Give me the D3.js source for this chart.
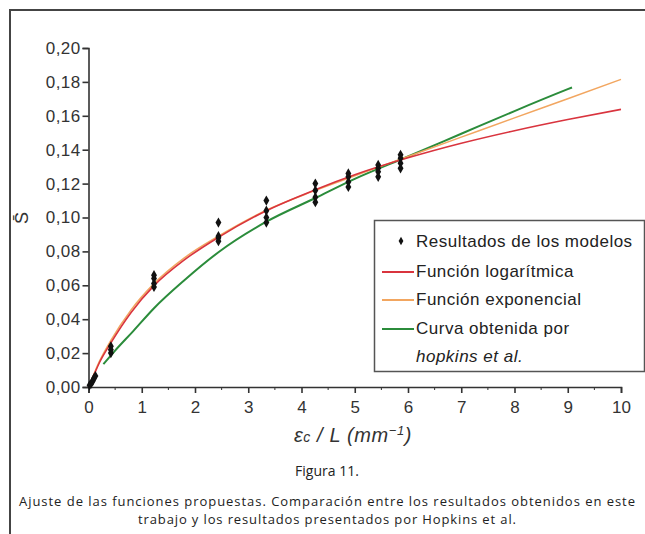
<!DOCTYPE html>
<html>
<head>
<meta charset="utf-8">
<script src="https://cdn.jsdelivr.net/npm/d3@7"></script>
<style>
  body { margin: 0; background: #fff; }
  svg { display: block; }
</style>
</head>
<body>
<div id="chart"></div>
<script>
// puntos de los modelos (x = εc/L, s = S medio)
const xPts = [0.02, 0.05, 0.08, 0.10, 0.13,
  0.42, 0.42, 0.42,
  1.23, 1.23, 1.23, 1.23,
  2.44, 2.44, 2.44, 2.44,
  3.34, 3.34, 3.34, 3.34,
  4.26, 4.26, 4.26, 4.26,
  4.88, 4.88, 4.88, 4.88,
  5.44, 5.44, 5.44, 5.44,
  5.86, 5.86, 5.86, 5.86];
const sPts = [0.001, 0.002, 0.0035, 0.005, 0.0065,
  0.020, 0.022, 0.024,
  0.059, 0.061, 0.064, 0.066,
  0.086, 0.088, 0.089, 0.097,
  0.097, 0.100, 0.104, 0.110,
  0.109, 0.112, 0.116, 0.120,
  0.118, 0.121, 0.124, 0.126,
  0.124, 0.127, 0.129, 0.131,
  0.129, 0.132, 0.135, 0.137];

// curvas ajustadas
const xFit = [0, 0.1, 0.2, 0.42, 0.8, 1.23, 1.8, 2.44, 3.34, 4.26, 5, 6, 7, 8, 9, 10];
const sLog = [0, 0.007, 0.014, 0.026, 0.044, 0.0598, 0.075, 0.0883, 0.104, 0.1164, 0.1252, 0.1352, 0.1438, 0.1512, 0.1578, 0.1638];
const sExp = [0, 0.0075, 0.0148, 0.0275, 0.0455, 0.061, 0.0762, 0.089, 0.1043, 0.116, 0.1246, 0.136, 0.1474, 0.1588, 0.1701, 0.1815];
const xHop = [0.28, 0.5, 0.84, 1.23, 1.8, 2.44, 3.34, 4.26, 5, 6, 7, 8, 9, 9.08];
const sHop = [0.0135, 0.0215, 0.033, 0.0465, 0.063, 0.0795, 0.0975, 0.1115, 0.1228, 0.136, 0.1494, 0.1628, 0.1757, 0.1767];

const yTicks = [0, 0.02, 0.04, 0.06, 0.08, 0.10, 0.12, 0.14, 0.16, 0.18, 0.20];
const xTicks = [0, 1, 2, 3, 4, 5, 6, 7, 8, 9, 10];
const legendLabels = ["Resultados de los modelos", "Función logarítmica", "Función exponencial", "Curva obtenida por"];
const colors = { log: "#d9343e", exp: "#f2a660", hop: "#2b8c3b" };

const W = 645, H = 534;
const svg = d3.select("#chart").append("svg").attr("width", W).attr("height", H);

// marco exterior
svg.append("path")
  .attr("d", `M10,${H} V10 H${W}`)
  .attr("fill", "none").attr("stroke", "#444").attr("stroke-width", 2);

const x = d3.scaleLinear().domain([0, 10]).range([88.5, 621]);
const y = d3.scaleLinear().domain([0, 0.2]).range([387, 48]);

const axisFont = "'Liberation Sans', Arial, sans-serif";

// eje Y
const gy = svg.append("g").attr("transform", `translate(${x(0)},0)`)
  .call(d3.axisLeft(y).tickValues(yTicks).tickSize(6).tickPadding(2)
    .tickFormat(d => d3.format(".2f")(d).replace(".", ",")));
gy.selectAll("text").attr("font-size", 17).attr("letter-spacing", 0.4)
  .attr("font-family", axisFont).attr("fill", "#333");

// eje X con marcas menores
const gx = svg.append("g").attr("transform", `translate(0,${y(0)})`)
  .call(d3.axisBottom(x).tickValues(xTicks).tickSize(6).tickPadding(8).tickFormat(d3.format("d")));
gx.selectAll("text").attr("font-size", 17).attr("font-family", axisFont).attr("fill", "#333");
gx.selectAll(".minor").data(d3.range(0.5, 10, 1)).enter().append("line")
  .attr("class", "minor")
  .attr("x1", d => x(d)).attr("x2", d => x(d)).attr("y1", 0).attr("y2", 3)
  .attr("stroke", "#333");

svg.selectAll(".domain, .tick line").attr("stroke", "#333").attr("stroke-width", 1.6);

// titulos de ejes
const xl = svg.append("text").attr("x", 353).attr("y", 442).attr("text-anchor", "middle")
  .attr("font-family", axisFont).attr("font-style", "italic").attr("fill", "#333")
  .attr("font-size", 20).attr("letter-spacing", 0.6);
xl.append("tspan").text("ε");
xl.append("tspan").attr("font-size", 14).text("c");
xl.append("tspan").text(" / L (mm");
xl.append("tspan").attr("font-size", 13).attr("dy", -7).text("−1");
xl.append("tspan").attr("dy", 7).text(")");

svg.append("text").attr("transform", "translate(28,218) rotate(-90)")
  .attr("text-anchor", "middle").attr("font-family", axisFont).attr("font-size", 18).attr("fill", "#333")
  .text("S\u0304");

// curvas
const line = d3.line().x(d => x(d[0])).y(d => y(d[1])).curve(d3.curveMonotoneX);
svg.append("path").datum(d3.zip(xHop, sHop)).attr("d", line)
  .attr("fill", "none").attr("stroke", colors.hop).attr("stroke-width", 2);
svg.append("path").datum(d3.zip(xFit, sExp)).attr("d", line)
  .attr("fill", "none").attr("stroke", colors.exp).attr("stroke-width", 1.5);
svg.append("path").datum(d3.zip(xFit, sLog)).attr("d", line)
  .attr("fill", "none").attr("stroke", colors.log).attr("stroke-width", 1.6);

// puntos
const diamond = d3.symbol().type(d3.symbolDiamond).size(30);
svg.selectAll(".pt").data(d3.zip(xPts, sPts)).enter().append("path")
  .attr("class", "pt")
  .attr("transform", d => `translate(${x(d[0])},${y(d[1])})`)
  .attr("d", diamond).attr("fill", "#111");

// leyenda
const lg = svg.append("g");
lg.append("rect").attr("x", 374.5).attr("y", 220.5).attr("width", 270).attr("height", 151)
  .attr("fill", "#fff").attr("stroke", "#555").attr("stroke-width", 1.5);
const rowsY = [241, 271, 299, 328];
const keys = [null, "log", "exp", "hop"];
rowsY.forEach((ry, i) => {
  if (i === 0) {
    lg.append("path").attr("transform", `translate(401,${ry})`)
      .attr("d", d3.symbol().type(d3.symbolDiamond).size(20)).attr("fill", "#111");
  } else {
    lg.append("line").attr("x1", 382).attr("x2", 414).attr("y1", ry + 1).attr("y2", ry + 1)
      .attr("stroke", colors[keys[i]]).attr("stroke-width", 2);
  }
  lg.append("text").attr("x", 416).attr("y", ry + 6).attr("font-family", axisFont)
    .attr("font-size", 17).attr("letter-spacing", 0.5).attr("fill", "#222").text(legendLabels[i]);
});
lg.append("text").attr("x", 416).attr("y", 362).attr("font-family", axisFont)
  .attr("font-size", 17).attr("letter-spacing", 0.5).attr("font-style", "italic")
  .attr("fill", "#222").text("hopkins et al.");

// pie de figura
const capFont = "'Open Sans', 'Noto Sans', sans-serif";
svg.append("text").attr("x", 327).attr("y", 476).attr("text-anchor", "middle")
  .attr("font-family", capFont).attr("font-size", 14).attr("fill", "#222").text("Figura 11.");
svg.append("text").attr("x", 327).attr("y", 506).attr("text-anchor", "middle")
  .attr("font-family", capFont).attr("font-size", 13).attr("fill", "#222")
  .attr("textLength", 616).attr("lengthAdjust", "spacing")
  .text("Ajuste de las funciones propuestas. Comparación entre los resultados obtenidos en este");
svg.append("text").attr("x", 327).attr("y", 524).attr("text-anchor", "middle")
  .attr("font-family", capFont).attr("font-size", 13).attr("fill", "#222")
  .attr("textLength", 378).attr("lengthAdjust", "spacing")
  .text("trabajo y los resultados presentados por Hopkins et al.");
</script>
</body>
</html>
